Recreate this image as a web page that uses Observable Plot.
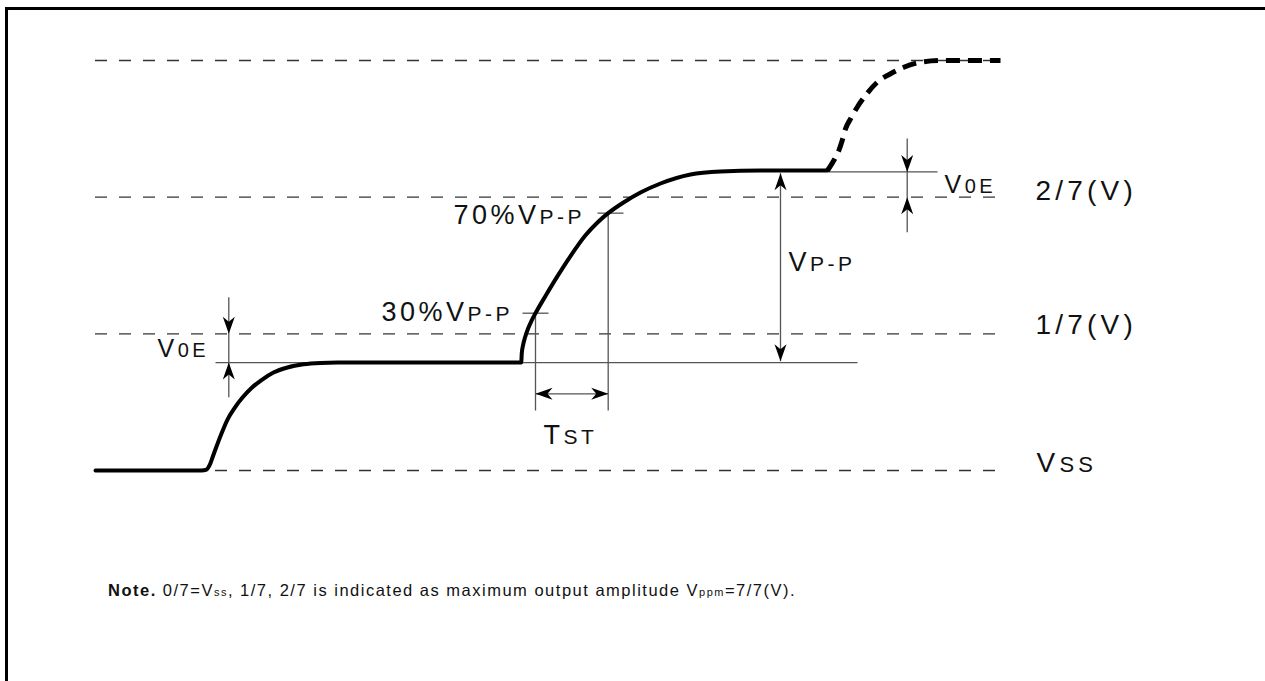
<!DOCTYPE html>
<html><head><meta charset="utf-8">
<script src="https://cdn.jsdelivr.net/npm/d3@7"></script>
<script src="https://cdn.jsdelivr.net/npm/@observablehq/plot@0.6"></script>
<style>
html,body{margin:0;padding:0;background:#fff;width:1265px;height:681px;overflow:hidden;}
#frame{position:absolute;left:5px;top:7px;width:1400px;height:800px;border:3px solid #000;box-sizing:border-box;}
#chart{position:absolute;left:0;top:0;}
#note{position:absolute;left:108px;top:582px;font-family:"Liberation Sans",Arial,sans-serif;font-size:16.5px;line-height:16.5px;letter-spacing:1.5px;color:#111;white-space:nowrap;}
#note b{font-weight:bold}
#note .s{font-size:11px}
</style></head><body>
<div id="frame"></div>
<div id="chart"></div>
<div id="note"><b>Note.</b> 0/7=V<span class="s">ss</span>, 1/7, 2/7 is indicated as maximum output amplitude V<span class="s">ppm</span>=7/7(V).</div>
<script>
// ---- Reference levels (units of Vppm/7) and dashed guide extents (time units)
const levelValues = [0, 1, 2, 3];
const levelStart  = [215, 95, 95, 95];
const levelEnd    = [995, 995, 995, 1000];
const levelLabels = ["V|SS", "1/7(V)", "2/7(V)"];
const levelLabelT = [1036, 1035, 1035];
const levelLabelV = [-0.012, 1.002, 1.976];

// ---- Output waveform (solid part)
const waveT = [95, 201, 206, 209, 212, 216, 221, 227, 234, 242, 251, 261, 273, 287, 303, 320, 337, 520.7,
               521.3, 522.5, 524.5, 527.5, 531, 535, 545, 557, 570, 585, 597, 607.7, 623, 640, 660, 690, 720, 760, 827];
const waveV = [0, 0, 0.007, 0.037, 0.095, 0.176, 0.271, 0.373, 0.457, 0.534, 0.604, 0.662, 0.717, 0.754, 0.777, 0.787, 0.79, 0.79,
               0.86, 0.915, 0.973, 1.037, 1.095, 1.151, 1.277, 1.422, 1.569, 1.721, 1.815, 1.883, 1.961, 2.034, 2.1, 2.166, 2.188, 2.195, 2.195];
// ---- Next step (dashed part)
const nextT = [827, 833.3, 838.3, 841.7, 845, 850, 856.7, 865, 876.7, 890, 903.3, 920, 940, 1000];
const nextV = [2.195, 2.268, 2.341, 2.415, 2.5, 2.573, 2.658, 2.744, 2.841, 2.903, 2.951, 2.987, 3, 3];

// ---- Thin dimension lines (t1,v1) -> (t2,v2)
const dimT1 = [215, 828, 522, 597, 535, 607.7, 228.3, 906.7, 780, 535];
const dimV1 = [0.79, 2.185, 1.151, 1.883, 1.151, 1.883, 1.268, 2.429, 2.175, 0.561];
const dimT2 = [857, 937, 548, 623, 535, 607.7, 228.3, 906.7, 780, 607.7];
const dimV2 = [0.79, 2.185, 1.151, 1.883, 0.439, 0.439, 0.536, 1.744, 0.8, 0.561];

// ---- Arrow tips (direction in degrees, 0 = up)
const tipT   = [228.3, 228.3, 906.7, 906.7, 780, 780, 535, 607.7];
const tipV   = [1.0, 0.79, 2.185, 2.0, 2.175, 0.8, 0.561, 0.561];
const tipDir = [180, 0, 180, 0, 0, 180, 270, 90];

// ---- Annotation labels ("|" separates the subscript part)
const annText = ["30%V|P-P", "70%V|P-P", "V|P-P", "T|ST"];
const annT    = [381, 453, 788, 543];
const annV    = [1.094, 1.805, 1.463, 0.195];
const voeText = ["V|0E", "V|0E"];
const voeT    = [157, 944];
const voeV    = [0.827, 2.032];

// ---- build tables
const levels = levelValues.map((v, i) => ({v, t1: levelStart[i], t2: levelEnd[i]}));
const levelLab = levelLabels.map((s, i) => ({s, t: levelLabelT[i], v: levelLabelV[i]}));
const wave = waveT.map((t, i) => ({t, v: waveV[i]}));
const next = nextT.map((t, i) => ({t, v: nextV[i]}));
const dims = dimT1.map((t, i) => ({t1: t, v1: dimV1[i], t2: dimT2[i], v2: dimV2[i]}));
const tips = tipT.map((t, i) => ({t, v: tipV[i], r: tipDir[i]}));
const ann = annText.map((s, i) => ({s, t: annT[i], v: annV[i]}));
const voe = voeText.map((s, i) => ({s, t: voeT[i], v: voeV[i]}));

const arrowHead = {
  draw(ctx) {
    ctx.moveTo(0, 0);
    ctx.lineTo(6, 17);
    ctx.lineTo(0, 12);
    ctx.lineTo(-6, 17);
    ctx.closePath();
  }
};

const svg = Plot.plot({
  width: 1265, height: 560,
  marginLeft: 0, marginRight: 0, marginTop: 60, marginBottom: 90,
  x: {domain: [0, 1265], axis: null},
  y: {domain: [0, 3], axis: null},
  style: {background: "transparent", fontFamily: "'Liberation Sans', Arial, Helvetica, sans-serif", color: "#111"},
  marks: [
    Plot.ruleY(levels, {y: "v", x1: "t1", x2: "t2", stroke: "#333", strokeWidth: 1.3, strokeDasharray: "12,12"}),
    Plot.link(dims, {x1: "t1", y1: "v1", x2: "t2", y2: "v2", stroke: "#555", strokeWidth: 1.3}),
    Plot.line(wave, {x: "t", y: "v", curve: "monotone-x", stroke: "#000", strokeWidth: 4}),
    Plot.line(next, {x: "t", y: "v", curve: "monotone-x", stroke: "#000", strokeWidth: 5, strokeDasharray: "14,8", strokeLinecap: "butt"}),
    Plot.dot(tips, {x: "t", y: "v", rotate: "r", symbol: arrowHead, fill: "#000", stroke: "none", r: 5}),
    Plot.text(levelLab, {x: "t", y: "v", text: "s", textAnchor: "start", lineAnchor: "bottom", fontSize: 28, fill: "#111"}),
    Plot.text(ann, {x: "t", y: "v", text: "s", textAnchor: "start", lineAnchor: "bottom", fontSize: 27, fill: "#111"}),
    Plot.text(voe, {x: "t", y: "v", text: "s", textAnchor: "start", lineAnchor: "bottom", fontSize: 25, fill: "#111"})
  ]
});

// split "main|sub" labels into two tspans with a smaller second part
d3.select(svg).selectAll("text").each(function () {
  const el = d3.select(this);
  const fs = parseFloat(this.closest("g").getAttribute("font-size")) || 27;
  el.attr("letter-spacing", fs >= 28 ? "4.2" : "3.5");
  const txt = this.textContent;
  if (txt.includes("|")) {
    const [a, b] = txt.split("|");
    this.textContent = "";
    el.append("tspan").text(a);
    el.append("tspan").attr("font-size", Math.round(fs * 0.78)).text(b);
  }
});

document.getElementById("chart").appendChild(svg);
</script>
</body></html>
